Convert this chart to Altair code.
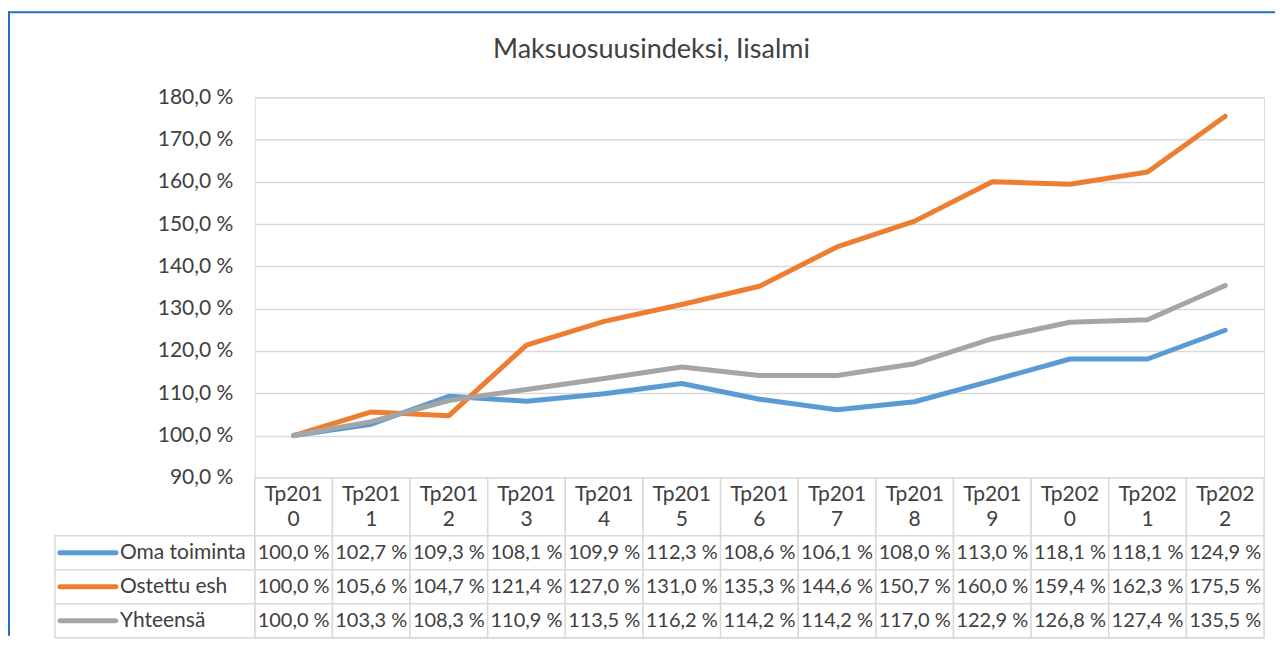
import altair as alt
import pandas as pd

TITLE = "Maksuosuusindeksi, Iisalmi"
years = ["Tp2010", "Tp2011", "Tp2012", "Tp2013", "Tp2014", "Tp2015", "Tp2016",
         "Tp2017", "Tp2018", "Tp2019", "Tp2020", "Tp2021", "Tp2022"]
series_names = ["Oma toiminta", "Ostettu esh", "Yhteensä"]
oma = [100.0, 102.7, 109.3, 108.1, 109.9, 112.3, 108.6, 106.1, 108.0, 113.0, 118.1, 118.1, 124.9]
ostettu = [100.0, 105.6, 104.7, 121.4, 127.0, 131.0, 135.3, 144.6, 150.7, 160.0, 159.4, 162.3, 175.5]
yhteensa = [100.0, 103.3, 108.3, 110.9, 113.5, 116.2, 114.2, 114.2, 117.0, 122.9, 126.8, 127.4, 135.5]
y_ticks = [90, 100, 110, 120, 130, 140, 150, 160, 170, 180]
colors = ["#5B9BD5", "#ED7D31", "#A5A5A5"]

FONT = "Lato"
TXT = "#404040"
GRID = "#D9D9D9"

# layout constants (pixels)
PLOT_W, PLOT_H = 1010, 381
HEAD_H, ROW_H = 58, 34
TABLE_H = HEAD_H + ROW_H * len(series_names)

rows = []
for s, vals in zip(series_names, [oma, ostettu, yhteensa]):
    for y, v in zip(years, vals):
        rows.append({"year": y, "series": s, "value": v,
                     "label": f"{v:.1f}".replace(".", ",") + " %"})
df = pd.DataFrame(rows)

color_scale = alt.Scale(domain=series_names, range=colors)

# ---------------- top: line chart ----------------
lines = alt.Chart(df).mark_line(strokeWidth=5, strokeCap="round", strokeJoin="round").encode(
    x=alt.X("year:N", sort=years, scale=alt.Scale(type="point", padding=0.5), axis=None),
    y=alt.Y("value:Q", scale=alt.Scale(domain=[90, 180], nice=False, zero=False),
            axis=alt.Axis(values=y_ticks, title=None, domain=False, ticks=False,
                          labelExpr="replace(format(datum.value, '.1f'), '.', ',') + ' %'",
                          labelFont=FONT, labelFontSize=21, labelColor=TXT, labelPadding=22,
                          gridColor=GRID, gridWidth=1.5)),
    color=alt.Color("series:N", scale=color_scale, legend=None),
    order=alt.Order("year:N"),
)

one = pd.DataFrame({"t": [TITLE]})
title = alt.Chart(one).mark_text(font=FONT, fontSize=27, color=TXT, align="center",
                                 baseline="alphabetic").encode(
    text="t:N", x=alt.value(397), y=alt.value(-39))

frame_left = alt.Chart(one).mark_rule(color="#1F70C1", strokeWidth=2).encode(
    x=alt.value(-246), y=alt.value(-86), y2=alt.value(539))
frame_top = alt.Chart(one).mark_rule(color="#1F70C1", strokeWidth=2).encode(
    x=alt.value(-247), x2=alt.value(1021), y=alt.value(-85))

top = alt.layer(frame_left, frame_top, lines, title).properties(width=PLOT_W, height=PLOT_H)

# ---------------- bottom: data table ----------------
head = pd.DataFrame({"year": years,
                     "txt": [y[:5] + "\n" + y[5:] for y in years]})
head["top"] = 0
head["bottom"] = HEAD_H
head["mid"] = HEAD_H / 2

cells = df.copy()
idx = {s: i for i, s in enumerate(series_names)}
cells["top"] = cells["series"].map(lambda s: HEAD_H + ROW_H * idx[s])
cells["bottom"] = cells["top"] + ROW_H
cells["mid"] = cells["top"] + ROW_H / 2

lab = pd.DataFrame({"series": series_names})
lab["top"] = lab["series"].map(lambda s: HEAD_H + ROW_H * idx[s])
lab["bottom"] = lab["top"] + ROW_H
lab["mid"] = lab["top"] + ROW_H / 2

xband = alt.X("year:N", sort=years, scale=alt.Scale(type="band", paddingInner=0, paddingOuter=0),
              axis=None)
yq = alt.Y("top:Q", scale=alt.Scale(domain=[0, TABLE_H], reverse=True, nice=False, zero=False),
           axis=None)

head_rect = alt.Chart(head).mark_rect(fill="white", stroke=GRID, strokeWidth=1.5).encode(
    x=xband, y=yq, y2="bottom:Q")
cell_rect = alt.Chart(cells).mark_rect(fill="white", stroke=GRID, strokeWidth=1.5).encode(
    x=xband, y=yq, y2="bottom:Q")
lab_rect = alt.Chart(lab).mark_rect(fill="white", stroke=GRID, strokeWidth=1.5).encode(
    x=alt.value(-200), x2=alt.value(0), y=yq, y2="bottom:Q")
lab_line = alt.Chart(lab).mark_rule(strokeWidth=5, strokeCap="round").encode(
    x=alt.value(-195), x2=alt.value(-139), y=alt.Y("mid:Q"),
    color=alt.Color("series:N", scale=color_scale, legend=None))
lab_text = alt.Chart(lab).mark_text(font=FONT, fontSize=21, color=TXT, align="left",
                                    baseline="middle").encode(
    x=alt.value(-135), y=alt.Y("mid:Q"), text="series:N")
head_text = alt.Chart(head).mark_text(font=FONT, fontSize=21, color=TXT, align="center",
                                      baseline="middle", lineBreak="\n", lineHeight=25,
                                      dy=-12).encode(
    x=xband, y=alt.Y("mid:Q"), text="txt:N")
cell_text = alt.Chart(cells).mark_text(font=FONT, fontSize=20, color=TXT, align="center",
                                       baseline="middle").encode(
    x=xband, y=alt.Y("mid:Q"), text="label:N")

table = alt.layer(head_rect, cell_rect, lab_rect, lab_line, lab_text, head_text, cell_text
                  ).properties(width=PLOT_W, height=TABLE_H)

chart = alt.vconcat(top, table, spacing=0, bounds="flush").properties(
    padding={"left": -2, "top": 1, "right": 0, "bottom": 0}
).configure_view(stroke=None).configure(background="white")

chart.save("out.html", embed_options={"renderer": "svg", "actions": False})
